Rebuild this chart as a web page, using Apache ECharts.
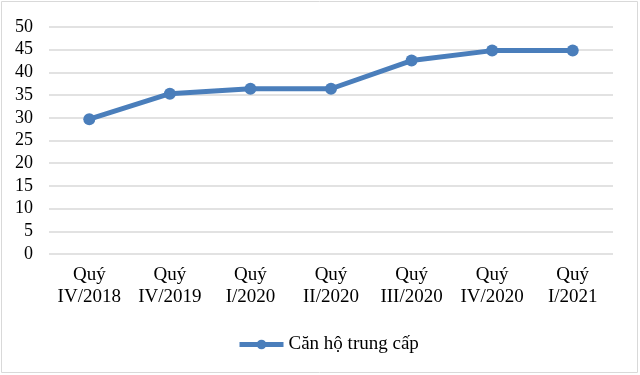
<!DOCTYPE html>
<html><head><meta charset="utf-8">
<script src="https://cdn.jsdelivr.net/npm/echarts@6/dist/echarts.min.js"></script>
<style>html,body{margin:0;padding:0;background:#fff}#c{width:640px;height:375px}</style>
</head><body><div id="c"></div>
<script>
var categories = ['Quý\nIV/2018','Quý\nIV/2019','Quý\nI/2020','Quý\nII/2020','Quý\nIII/2020','Quý\nIV/2020','Quý\nI/2021'];
var seriesName = 'Căn hộ trung cấp';
var values = [29.7, 35.3, 36.4, 36.4, 42.6, 44.8, 44.8];
var yTicks = {min: 0, max: 50, interval: 5};

var chart = echarts.init(document.getElementById('c'));
var font = '"Liberation Serif","Times New Roman",serif';
chart.setOption({
  animation: false,
  graphic: [{type:'rect', shape:{x:1.5,y:1.5,width:636,height:371}, style:{fill:'none', stroke:'#d9d9d9', lineWidth:1}}],
  grid: {left: 49, right: 27, top: 27, bottom: 121},
  legend: {
    data: [seriesName], top: 330, left: 232,
    itemWidth: 44, itemHeight: 12, itemGap: 4,
    lineStyle: {width: 5},
    textStyle: {fontFamily: font, fontSize: 19, color: '#000'},
  },
  xAxis: {
    type: 'category', data: categories, boundaryGap: true,
    axisLine: {show: false}, axisTick: {show: false},
    axisLabel: {fontFamily: font, fontSize: 19, color: '#000', lineHeight: 22, margin: 10, interval: 0}
  },
  yAxis: {
    type: 'value', min: yTicks.min, max: yTicks.max, interval: yTicks.interval,
    axisLine: {show: false}, axisTick: {show: false},
    axisLabel: {fontFamily: font, fontSize: 18, color: '#000', margin: 16},
    splitLine: {lineStyle: {color: '#d9d9d9', width: 1.5}}
  },
  series: [{
    name: seriesName, type: 'line', data: values,
    symbol: 'circle', symbolSize: 12,
    lineStyle: {color: '#4a7ebb', width: 5},
    itemStyle: {color: '#4a7ebb'}
  }]
});
</script></body></html>
